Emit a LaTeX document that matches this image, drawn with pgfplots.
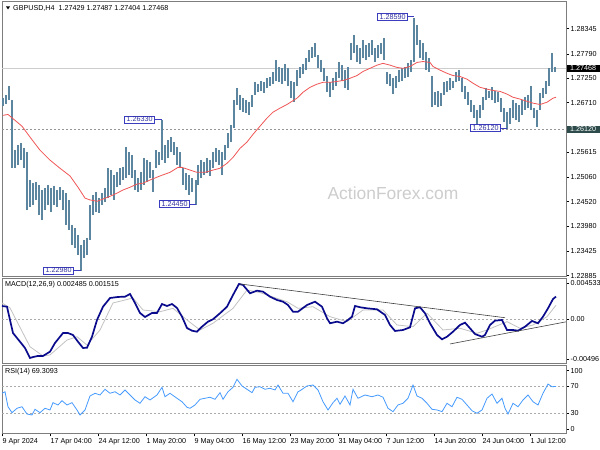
\documentclass[border=0pt]{standalone}
\usepackage{pgfplots}
\pgfplotsset{compat=1.18}
\usepackage{pgfplotstable}
\usepackage{fontspec}
\setmainfont{Liberation Sans}
\definecolor{barcol}{RGB}{92,134,160}
\definecolor{macol}{RGB}{240,85,85}
\definecolor{lblblue}{RGB}{60,60,190}
\definecolor{macdcol}{RGB}{10,10,140}
\definecolor{sigcol}{RGB}{195,195,195}
\definecolor{rsicol}{RGB}{70,155,255}
\definecolor{framecol}{RGB}{125,125,125}
\definecolor{tealbox}{RGB}{45,75,75}
\definecolor{wmark}{RGB}{205,205,205}

\pgfplotstableread{
x lo hi
3 1.2663 1.2681
6 1.2667 1.2687
9 1.2676 1.2709
12 1.2526 1.2676
15 1.2526 1.2566
18 1.2533 1.2577
21 1.2544 1.2581
24 1.2526 1.2570
27 1.2434 1.2562
30 1.2440 1.2500
33 1.2445 1.2493
36 1.2456 1.2495
39 1.2423 1.2489
42 1.2411 1.2478
45 1.2434 1.2482
48 1.2445 1.2489
51 1.2429 1.2482
54 1.2445 1.2487
57 1.2440 1.2478
60 1.2456 1.2484
63 1.2434 1.2478
66 1.2400 1.2471
69 1.2389 1.2456
72 1.2356 1.2400
75 1.2350 1.2394
78 1.2334 1.2378
81 1.2298 1.2356
84 1.2328 1.2367
87 1.2334 1.2372
90 1.2367 1.2445
93 1.2423 1.2467
96 1.2429 1.2473
99 1.2427 1.2460
102 1.2445 1.2471
105 1.2451 1.2482
108 1.2460 1.2526
111 1.2467 1.2522
114 1.2456 1.2511
117 1.2484 1.2517
120 1.2489 1.2526
123 1.2500 1.2528
126 1.2504 1.2573
129 1.2511 1.2562
132 1.2504 1.2555
135 1.2478 1.2522
138 1.2473 1.2504
141 1.2478 1.2517
144 1.2489 1.2548
147 1.2495 1.2544
150 1.2504 1.2539
153 1.2473 1.2522
156 1.2526 1.2566
159 1.2533 1.2562
162 1.2544 1.2633
165 1.2537 1.2577
168 1.2548 1.2588
171 1.2562 1.2595
174 1.2555 1.2584
177 1.2533 1.2573
180 1.2526 1.2562
183 1.2489 1.2526
186 1.2478 1.2515
189 1.2467 1.2511
192 1.2473 1.2504
196 1.2445 1.2500
198 1.2489 1.2533
201 1.2504 1.2544
204 1.2511 1.2539
207 1.2515 1.2548
210 1.2509 1.2544
213 1.2526 1.2562
216 1.2539 1.2570
219 1.2533 1.2566
222 1.2511 1.2562
225 1.2544 1.2577
228 1.2570 1.2603
231 1.2584 1.2621
234 1.2614 1.2676
237 1.2665 1.2703
240 1.2654 1.2687
243 1.2650 1.2681
246 1.2648 1.2676
249 1.2643 1.2672
252 1.2661 1.2687
255 1.2687 1.2716
258 1.2694 1.2712
261 1.2698 1.2720
264 1.2692 1.2716
267 1.2703 1.2725
270 1.2707 1.2729
273 1.2712 1.2738
276 1.2720 1.2765
279 1.2716 1.2751
282 1.2712 1.2747
285 1.2720 1.2756
288 1.2707 1.2747
291 1.2681 1.2720
294 1.2672 1.2716
297 1.2709 1.2743
300 1.2725 1.2751
303 1.2734 1.2756
306 1.2743 1.2769
309 1.2760 1.2787
312 1.2769 1.2795
315 1.2773 1.2802
318 1.2747 1.2776
321 1.2738 1.2765
324 1.2720 1.2747
327 1.2694 1.2731
330 1.2683 1.2716
333 1.2698 1.2725
336 1.2709 1.2738
339 1.2725 1.2760
342 1.2720 1.2754
345 1.2703 1.2743
348 1.2698 1.2751
351 1.2765 1.2804
354 1.2782 1.2820
357 1.2760 1.2798
360 1.2756 1.2791
363 1.2769 1.2809
366 1.2765 1.2798
369 1.2773 1.2804
372 1.2776 1.2809
375 1.2760 1.2791
378 1.2769 1.2798
381 1.2778 1.2804
384 1.2765 1.2815
387 1.2712 1.2738
390 1.2709 1.2734
393 1.2690 1.2725
396 1.2703 1.2731
399 1.2716 1.2743
402 1.2720 1.2747
405 1.2725 1.2751
408 1.2729 1.2758
411 1.2738 1.2765
414 1.2760 1.2859
417 1.2798 1.2842
420 1.2771 1.2809
423 1.2765 1.2804
426 1.2743 1.2782
429 1.2738 1.2771
432 1.2661 1.2731
435 1.2667 1.2694
438 1.2661 1.2698
441 1.2663 1.2692
444 1.2687 1.2716
447 1.2694 1.2720
450 1.2698 1.2725
453 1.2703 1.2720
456 1.2716 1.2738
459 1.2720 1.2743
462 1.2694 1.2725
465 1.2680 1.2709
468 1.2667 1.2694
471 1.2650 1.2676
474 1.2637 1.2665
477 1.2623 1.2654
480 1.2637 1.2665
483 1.2654 1.2683
486 1.2676 1.2703
489 1.2681 1.2698
492 1.2676 1.2705
495 1.2670 1.2698
498 1.2672 1.2694
501 1.2650 1.2681
504 1.2628 1.2659
507 1.2612 1.2650
510 1.2623 1.2659
513 1.2637 1.2676
516 1.2632 1.2670
519 1.2628 1.2665
522 1.2643 1.2676
525 1.2654 1.2683
528 1.2659 1.2687
531 1.2654 1.2709
534 1.2637 1.2659
537 1.2617 1.2654
540 1.2654 1.2692
543 1.2681 1.2703
546 1.2690 1.2720
549 1.2709 1.2747
552 1.2738 1.2780
555 1.2740 1.2749
}\bars

\pgfplotstableread{
x y
3 1.2643
8 1.2645
15 1.2632
22 1.2619
30 1.2595
40 1.2566
50 1.2544
60 1.2526
70 1.2509
78 1.2484
85 1.2460
90 1.2456
97 1.2453
103 1.2458
110 1.2464
117 1.2471
123 1.2478
130 1.2484
137 1.2491
143 1.2493
150 1.2500
160 1.2509
170 1.2517
178 1.2528
182 1.2528
190 1.2522
197 1.2517
205 1.2517
213 1.2522
220 1.2526
227 1.2537
233 1.2550
240 1.2570
247 1.2584
253 1.2601
260 1.2619
267 1.2637
273 1.2650
280 1.2659
287 1.2667
297 1.2681
303 1.2694
310 1.2705
317 1.2712
323 1.2716
330 1.2716
337 1.2718
343 1.2720
350 1.2725
357 1.2731
363 1.2740
370 1.2747
377 1.2754
383 1.2758
390 1.2754
397 1.2749
403 1.2747
410 1.2751
417 1.2760
423 1.2762
430 1.2760
433 1.2751
440 1.2743
447 1.2736
453 1.2731
460 1.2729
467 1.2723
473 1.2714
480 1.2705
487 1.2701
493 1.2698
500 1.2696
507 1.2690
513 1.2683
520 1.2679
527 1.2674
533 1.2670
540 1.2667
547 1.2672
553 1.2681
556 1.2683
}\ma

\pgfplotstableread{
x y
2 0.00144
7 0.00136
10 -0.00012
13 -0.00158
20 -0.00255
25 -0.00325
30 -0.00437
33 -0.00426
38 -0.00414
43 -0.00414
50 -0.00366
55 -0.00269
63 -0.00158
68 -0.00158
73 -0.00180
78 -0.00255
83 -0.00325
87 -0.00322
92 -0.00199
97 -0.00012
103 0.00136
110 0.00233
118 0.00245
125 0.00248
130 0.00278
135 0.00178
140 0.00066
145 0.00021
152 0.00066
157 0.00066
162 0.00166
167 0.00144
172 0.00166
177 0.00122
182 0.00025
187 -0.00102
192 -0.00132
197 -0.00143
202 -0.00087
208 -0.00031
213 -0.00004
220 0.00063
227 0.00136
233 0.00267
239 0.00390
243 0.00379
250 0.00286
257 0.00315
263 0.00304
270 0.00248
277 0.00211
283 0.00192
288 0.00155
293 0.00080
298 0.00080
307 0.00155
315 0.00192
322 0.00136
327 0.00007
330 -0.00049
337 -0.00031
343 -0.00049
348 -0.00012
352 0.00025
355 0.00144
360 0.00130
367 0.00118
377 0.00107
385 0.00044
390 -0.00068
395 -0.00135
403 -0.00124
410 -0.00094
415 0.00118
420 0.00130
425 0.00063
430 -0.00049
437 -0.00180
442 -0.00228
447 -0.00199
453 -0.00143
460 -0.00068
465 -0.00042
470 -0.00105
475 -0.00169
482 -0.00199
485 -0.00180
490 -0.00068
495 -0.00020
502 -0.00012
507 -0.00124
513 -0.00124
518 -0.00132
525 -0.00087
532 -0.00023
538 -0.00049
543 0.00025
548 0.00118
553 0.00222
556 0.00249
}\macd

\pgfplotstableread{
x y
2 0.00178
10 0.00122
30 -0.00311
43 -0.00414
50 -0.00403
67 -0.00236
77 -0.00199
87 -0.00292
100 -0.00124
113 0.00178
133 0.00233
143 0.00099
160 0.00080
173 0.00118
187 -0.00012
200 -0.00124
213 -0.00049
233 0.00118
247 0.00323
260 0.00293
287 0.00192
298 0.00118
313 0.00136
330 0.00025
347 -0.00031
363 0.00099
383 0.00099
397 -0.00068
413 -0.00087
427 0.00063
443 -0.00124
460 -0.00105
477 -0.00161
487 -0.00124
507 -0.00031
520 -0.00105
533 -0.00068
547 0.00025
556 0.00152
}\signal

\pgfplotstableread{
x y
2 59.2
5 61.5
8 39.3
12 30.5
17 37
22 39.3
27 28.5
32 27.1
35 35.5
40 30.5
45 37
50 34.5
53 45.3
58 41.9
62 48.2
67 41.9
72 45.3
77 34.5
80 27.1
85 34.5
90 55.2
95 59.2
100 56.7
105 65.1
110 59.2
115 61.5
120 56.7
125 64.1
130 56.7
135 49.3
140 44.4
145 54.1
150 49.3
157 56.7
162 68
165 54.1
170 59.2
177 51.8
182 46.7
187 38.5
190 37
195 41.9
200 50.3
205 51.8
210 53.3
215 50.3
220 60.1
223 50.3
228 61.5
233 68
237 79.9
242 70
247 65.1
252 60.1
255 68
260 68.9
265 65.1
270 66.6
275 64.1
278 71.4
283 59.2
288 59.2
293 46.7
298 61.5
300 63
307 70
313 71.4
318 64.1
323 46.7
328 34.5
333 45.3
337 51.8
340 42.9
345 55.2
350 41.9
353 65.1
358 51.8
365 56.7
372 54.1
378 56.7
383 53.3
388 37
393 32
398 41.9
403 44.4
408 51.8
413 71.4
417 55.2
422 51.8
427 44.4
432 35.5
437 34.5
442 32
447 44.4
452 39.3
457 53.3
462 50.3
467 41.9
472 33.4
477 29.6
482 34.5
487 51.8
492 58.1
497 44.4
502 51.8
505 37
508 28.6
513 44.4
518 39.3
523 49.3
528 56.7
533 46.7
538 41.9
543 59.2
548 72.9
552 68.9
556 69.3
}\rsi

\tikzset{
  lbl/.style={draw=lblblue, fill=white, text=lblblue!85!black,
    font=\fontsize{7.2}{8}\selectfont, inner xsep=2.2bp, inner ysep=1bp, line width=0.6bp},
  pbox/.style={text=white, anchor=west, font=\fontsize{7.2}{8}\selectfont,
    inner xsep=1.5bp, inner ysep=1.2bp, minimum width=33bp},
}
\pgfplotsset{
  panel/.style={
    scale only axis, width=564bp, xmin=2, xmax=566,
    axis line style={draw=framecol, line width=0.9bp},
    tick align=outside, major tick length=3bp,
    tick style={draw=black, line width=0.5bp},
    ytick pos=right, yticklabel pos=right,
    scaled y ticks=false,
    tick label style={font=\fontsize{7.2}{8}\selectfont},
    yticklabel style={anchor=west, inner xsep=1.5bp},
    clip=false,
  },
}

\begin{document}
\begin{tikzpicture}
\path[use as bounding box, fill=white] (0,0) rectangle (600bp,450bp);
% ---------------- main price panel
\begin{axis}[panel, at={(2bp,448.5bp)}, anchor=north west, height=274.5bp,
  ymin=1.22878, ymax=1.289475, xtick=\empty,
  ytick={1.28345,1.27790,1.27250,1.26710,1.25615,1.25060,1.24520,1.23980,1.23425,1.22885},
  yticklabels={1.28345,1.27790,1.27250,1.26710,1.25615,1.25060,1.24520,1.23980,1.23425,1.22885}]
\addplot[draw={rgb,255:red,150;green,150;blue,150}, line width=0.7bp, dash pattern=on 2bp off 2bp, forget plot] coordinates {(2,1.2612) (566,1.2612)};
\addplot[draw={rgb,255:red,205;green,205;blue,205}, line width=0.8bp, forget plot] coordinates {(2,1.27468) (566,1.27468)};
\addplot[barcol, draw=none, mark=none, forget plot,
  error bars/.cd, y dir=both, y explicit, error mark=none,
  error bar style={draw=barcol, solid, line width=1.5bp}]
  table[x=x, y expr={(\thisrow{lo}+\thisrow{hi})/2}, y error expr={(\thisrow{hi}-\thisrow{lo})/2}] {\bars};
\addplot[macol, line width=0.8bp, forget plot] table[x=x,y=y] {\ma};
% peak/trough labels
\draw[lblblue, line width=0.6bp] (axis cs:155,1.2634) -- (axis cs:162,1.2634);
\node[lbl, anchor=east] at (axis cs:155,1.2634) {1.26330};
\draw[lblblue, line width=0.6bp] (axis cs:74,1.2300) -- (axis cs:81,1.2300);
\node[lbl, anchor=east] at (axis cs:74,1.2300) {1.22980};
\draw[lblblue, line width=0.6bp] (axis cs:190,1.2447) -- (axis cs:196,1.2447);
\node[lbl, anchor=east] at (axis cs:190,1.2447) {1.24450};
\draw[lblblue, line width=0.6bp] (axis cs:408,1.2861) -- (axis cs:414,1.2861);
\node[lbl, anchor=east] at (axis cs:408,1.2861) {1.28590};
\draw[lblblue, line width=0.6bp] (axis cs:501,1.2615) -- (axis cs:507,1.2615);
\node[lbl, anchor=east] at (axis cs:501,1.2615) {1.26120};
% right highlighted price boxes
\node[pbox, fill=black] at (axis cs:566.5,1.27468) {1.27468};
\node[pbox, fill=tealbox] at (axis cs:566.5,1.2612) {1.26120};
\end{axis}
% ---------------- MACD panel
\begin{axis}[panel, at={(2bp,171.7bp)}, anchor=north west, height=85bp,
  ymin=-0.00496, ymax=0.004533, xtick=\empty,
  ytick={0.003975,0,-0.004513}, yticklabels={0.004533,0.00,-0.00496}]
\addplot[draw={rgb,255:red,170;green,170;blue,170}, line width=0.6bp, dash pattern=on 2bp off 2bp, forget plot] coordinates {(2,0) (566,0)};
\addplot[sigcol, line width=0.8bp, forget plot] table[x=x,y=y] {\signal};
\addplot[macdcol, line width=1.7bp, forget plot] table[x=x,y=y] {\macd};
\addplot[black!75, line width=0.6bp, forget plot] coordinates {(240,0.00390) (505,0.00013)};
\addplot[black!75, line width=0.6bp, forget plot] coordinates {(450,-0.00280) (566,-0.00033)};
\end{axis}
% ---------------- RSI panel
\begin{axis}[panel, at={(2bp,84.3bp)}, anchor=north west, height=67.6bp,
  ymin=0, ymax=100,
  ytick={92.6,70,30,5.9}, yticklabels={100,70,30,0},
  xtick pos=left,
  xtick={2,50,98,146,194,242,290,338,386,434,482,530},
  xticklabels={9 Apr 2024,17 Apr 04:00,24 Apr 12:00,1 May 20:00,9 May 04:00,16 May 12:00,23 May 20:00,31 May 04:00,7 Jun 12:00,14 Jun 20:00,24 Jun 04:00,1 Jul 12:00},
  xticklabel style={anchor=north west, inner xsep=0.5bp, inner ysep=1bp, yshift=-0.5bp}]
\addplot[draw={rgb,255:red,170;green,170;blue,170}, line width=0.6bp, dash pattern=on 2bp off 2bp, forget plot] coordinates {(2,70) (566,70)};
\addplot[draw={rgb,255:red,170;green,170;blue,170}, line width=0.6bp, dash pattern=on 2bp off 2bp, forget plot] coordinates {(2,30) (566,30)};
\addplot[rsicol, line width=0.8bp, forget plot] table[x=x,y=y] {\rsi};
\end{axis}
% ---------------- texts
\fill (6bp,443.5bp) -- (10bp,443.5bp) -- (8bp,440.5bp) -- cycle;
\node[anchor=west, inner sep=0pt, font=\fontsize{7.2}{8}\selectfont] at (13bp,442bp) {GBPUSD,H4\ \ 1.27429 1.27487 1.27404 1.27468};
\node[anchor=west, inner sep=0pt, font=\fontsize{7.2}{8}\selectfont] at (5bp,165bp) {MACD(12,26,9) 0.002485 0.001515};
\node[anchor=west, inner sep=0pt, font=\fontsize{7.2}{8}\selectfont] at (5bp,78bp) {RSI(14) 69.3093};
\node[text=wmark, font=\fontsize{17.5}{19}\selectfont] at (393bp,257bp) {ActionForex.com};
\end{tikzpicture}
\end{document}
